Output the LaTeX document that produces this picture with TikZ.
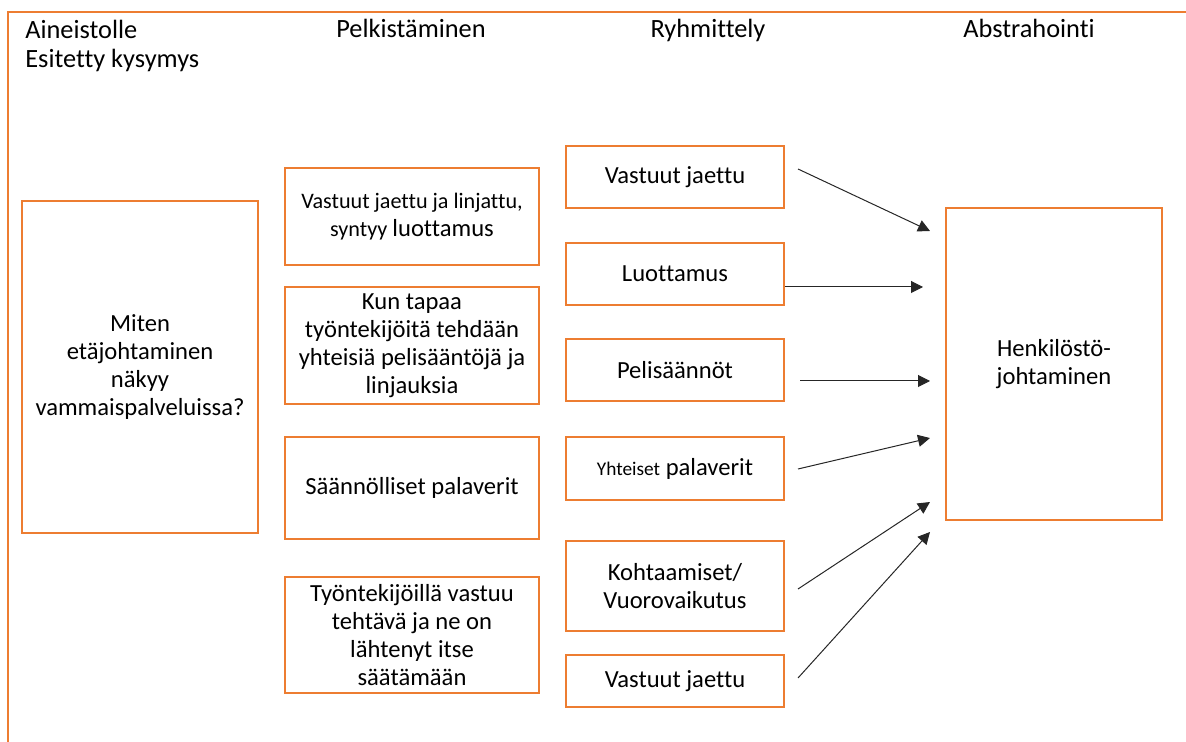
\documentclass[tikz,border=0pt]{standalone}
\usepackage{fontspec}
\setmainfont{Carlito}[Ligatures=NoCommon]
\usepackage{tikz}
\usetikzlibrary{arrows.meta}
\definecolor{officeorange}{HTML}{ED7D31}
\newcommand{\txt}{\fontsize{14}{16}\selectfont}
\newcommand{\smtxt}{\fontsize{12.6}{16}\selectfont}
\newcommand{\tinytxt}{\fontsize{11}{16}\selectfont}
\tikzset{
	box/.style={draw=officeorange, line width=0.04cm, rectangle, inner sep=0pt, align=center, font=\txt},
	head/.style={inner sep=0pt, font=\fontsize{15}{17}\selectfont},
	link/.style={draw=black!85, line width=0.02cm, -{Triangle[length=0.24cm, width=0.24cm]}}
}

\begin{document}
\begin{tikzpicture}[x=0.02cm, y=-0.02cm]
			%%%%% START %%%%%
			\useasboundingbox (0, 0) rectangle (1186, 742);
			\draw[officeorange, line width=0.04cm] (8, 742) -- (8, 12) -- (1186, 12);
			
			\node[head, anchor=base west, align=left] (kysymys) at (25, 68) {Aineistolle\\Esitetty kysymys};
			\node[head, anchor=base] (pelk) at (411, 38) {Pelkistäminen};
			\node[head, anchor=base] (ryhm) at (708, 38) {Ryhmittely};
			\node[head, anchor=base] (abst) at (1029, 38) {Abstrahointi};
			
			\node[box, minimum width=4.72cm, minimum height=6.64cm] (miten) at (140, 367) {Miten\\etäjohtaminen\\näkyy\\vammaispalveluissa?};
			
			\node[box, minimum width=5.08cm, minimum height=1.94cm] (p1) at (412, 216.5) {\smtxt Vastuut jaettu ja linjattu,\\\smtxt syntyy {\txt luottamus}};
			\node[box, minimum width=5.08cm, minimum height=2.34cm] (p2) at (412, 345.5) {Kun tapaa\\työntekijöitä tehdään\\yhteisiä pelisääntöjä ja\\linjauksia};
			\node[box, minimum width=5.08cm, minimum height=2.04cm] (p3) at (412, 488) {Säännölliset palaverit};
			\node[box, minimum width=5.08cm, minimum height=2.32cm] (p4) at (412, 635) {Työntekijöillä vastuu\\tehtävä ja ne on\\lähtenyt itse\\säätämään};
			
			\node[box, minimum width=4.36cm, minimum height=1.24cm] (r1) at (675, 177) {Vastuut jaettu};
			\node[box, minimum width=4.36cm, minimum height=1.24cm] (r2) at (675, 274) {Luottamus};
			\node[box, minimum width=4.36cm, minimum height=1.24cm] (r3) at (675, 370) {Pelisäännöt};
			\node[box, minimum width=4.36cm, minimum height=1.26cm] (r4) at (675, 468.5) {{\tinytxt Yhteiset} palaverit};
			\node[box, minimum width=4.36cm, minimum height=1.80cm] (r5) at (675, 586) {Kohtaamiset/\\Vuorovaikutus};
			\node[box, minimum width=4.36cm, minimum height=1.04cm] (r6) at (675, 681) {Vastuut jaettu};
			
			\node[box, minimum width=4.32cm, minimum height=6.24cm] (henk) at (1054, 364) {Henkilöstö-\\johtaminen};
			
			% arrow ends
			\coordinate (s1) at (798, 169);  \coordinate (t1) at (930, 231);
			\coordinate (s2) at (785, 287);  \coordinate (t2) at (923, 287);
			\coordinate (s3) at (800, 381);  \coordinate (t3) at (930, 381);
			\coordinate (s4) at (798, 469);  \coordinate (t4) at (930, 438);
			\coordinate (s5) at (798, 589);  \coordinate (t5) at (930, 502);
			\coordinate (s6) at (798, 678);  \coordinate (t6) at (930, 532);
			
			\foreach \i in {1,...,6}
				\draw[link] (s\i) -- (t\i);
			%%%%% END %%%%%
\end{tikzpicture}
\end{document}
